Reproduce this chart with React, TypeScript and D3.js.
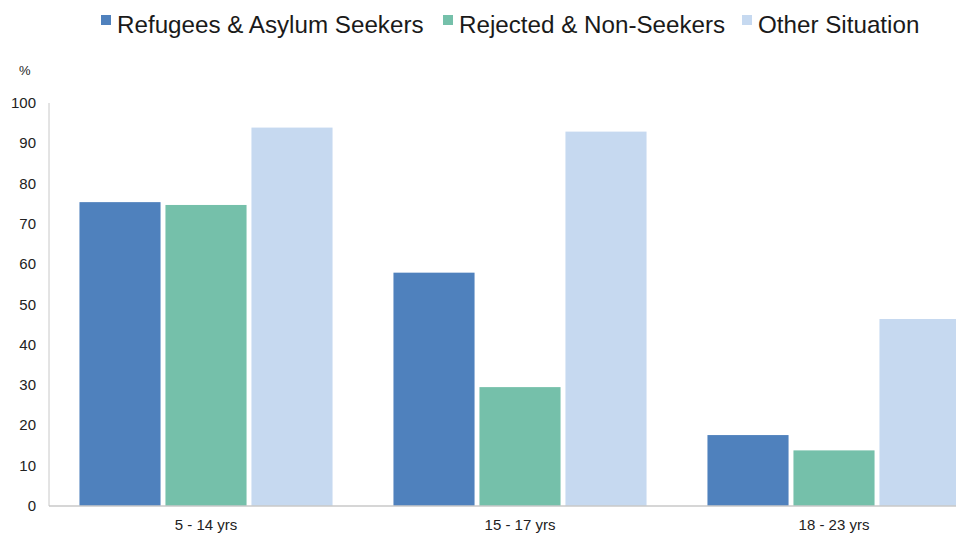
import React from "react";
import * as d3 from "d3";

const categories = ["5 - 14 yrs", "15 - 17 yrs", "18 - 23 yrs"];
const seriesNames = ["Refugees & Asylum Seekers", "Rejected & Non-Seekers", "Other Situation"];
const refugees = [75.4, 57.9, 17.6];
const rejected = [74.7, 29.5, 13.8];
const other = [93.9, 92.9, 46.4];
const yTicks = [0, 10, 20, 30, 40, 50, 60, 70, 80, 90, 100];
const colors = ["#4F81BD", "#75C0AA", "#C6D9F0"];

const W = 956;
const H = 536;
const left = 49;
const bottom = 506;
const top = 103;

export default function App() {
  const series = [refugees, rejected, other];
  const x0 = d3.scaleBand<string>().domain(categories).range([left, left + 3 * 314]).paddingInner(0.194).paddingOuter(0.097);
  const x1 = d3.scaleBand<number>().domain([0, 1, 2]).range([0, x0.bandwidth()]).paddingInner(0.057);
  const y = d3.scaleLinear().domain([0, 100]).range([bottom, top]);
  const font = "'Liberation Sans', Arial, sans-serif";
  const legendX = [101, 443, 742];
  return (
    <svg width={W} height={H} style={{ position: "absolute", left: 0, top: 0 }} fontFamily={font}>
      <rect width={W} height={H} fill="#fff" />
      {seriesNames.map((n, i) => (
        <g key={n}>
          <rect x={legendX[i]} y={15} width={10} height={10} fill={colors[i]} />
          <text x={legendX[i] + 16} y={33} fontSize={24.2} fill="#1a1a1a">{n}</text>
        </g>
      ))}
      <text x={19} y={75} fontSize={13} fill="#222">%</text>
      {yTicks.map((t) => (
        <text key={t} x={36} y={y(t) + 5} fontSize={15} textAnchor="end" fill="#222">{t}</text>
      ))}
      <line x1={left} x2={left} y1={top} y2={bottom} stroke="#c8c8c8" strokeWidth={1} />
      {categories.map((c, ci) => (
        <g key={c}>
          {series.map((s, si) => (
            <rect
              key={si}
              x={(x0(c) as number) + (x1(si) as number)}
              y={y(s[ci])}
              width={x1.bandwidth()}
              height={bottom - y(s[ci])}
              fill={colors[si]}
            />
          ))}
          <text x={(x0(c) as number) + x0.bandwidth() / 2} y={530} fontSize={15} textAnchor="middle" fill="#222">{c}</text>
        </g>
      ))}
      <line x1={left} x2={W} y1={bottom} y2={bottom} stroke="#c8c8c8" strokeWidth={1.5} />
    </svg>
  );
}
